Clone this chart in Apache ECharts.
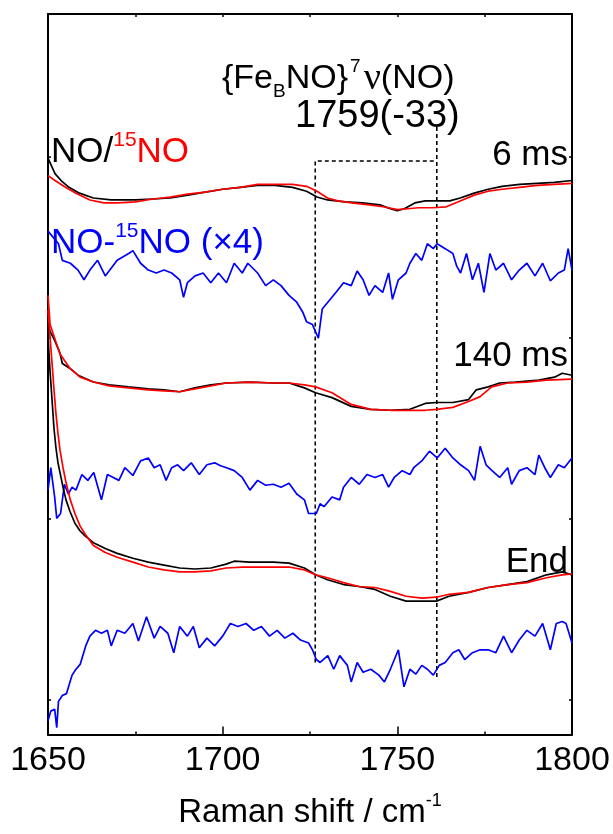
<!DOCTYPE html>
<html><head><meta charset="utf-8">
<script src="https://cdn.jsdelivr.net/npm/echarts@6/dist/echarts.min.js"></script>
<style>html,body{margin:0;padding:0;background:#fff}#c{width:613px;height:834px}</style>
</head><body><div id="c"></div>
<script>
// x: Raman shift (cm-1), y: intensity (arbitrary units, traces stacked)
const xTickLabels = [1650, 1700, 1750, 1800];
const yTickValues = [36, 222, 407, 593];

const ms6Black = [[1650,592],[1651,584],[1652,576],[1654,568],[1656,562],[1659,556],[1663,551],[1668,549],[1675,549],[1680,550],[1685,551],[1690,554],[1695,557],[1700,560],[1705,562],[1710,564],[1715,564],[1720,562],[1724,558],[1727,552],[1730,549],[1735,547],[1740,546],[1745,544],[1748,540],[1750,538],[1752,540],[1755,546],[1758,548],[1761,548],[1765,548],[1768,551],[1772,556],[1776,560],[1780,563],[1785,565],[1790,566],[1795,567],[1800,569]];
const ms6Red = [[1650,574],[1652,569],[1655,562],[1658,556],[1662,549],[1666,546],[1670,546],[1675,547],[1680,550],[1685,552],[1690,555],[1695,557],[1700,560],[1705,562],[1710,565],[1715,565],[1720,565],[1724,563],[1727,558],[1730,551],[1733,548],[1737,546],[1742,544],[1746,542],[1750,539],[1753,540],[1756,541],[1760,541],[1764,542],[1768,548],[1772,554],[1776,558],[1780,560],[1785,562],[1790,564],[1795,565],[1800,566]];
const ms6Diff = [[1650.0,517],[1653.0,504],[1654.1,487],[1656.4,484],[1658.6,477],[1660.3,467],[1662.0,477],[1664.2,487],[1666.4,471],[1669.8,487],[1673.1,494],[1674.3,497],[1676.5,484],[1678.7,477],[1681.0,474],[1683.2,477],[1685.4,474],[1687.7,467],[1688.8,449],[1689.9,464],[1692.1,471],[1694.4,474],[1696.6,464],[1698.8,474],[1701.1,464],[1703.3,484],[1705.6,474],[1707.2,484],[1710.0,474],[1712.3,461],[1714.5,467],[1716.7,461],[1719.0,451],[1721.2,444],[1722.9,434],[1724.0,424],[1725.7,421],[1727.4,407],[1728.5,437],[1730.1,444],[1732.4,454],[1734.6,464],[1736.8,461],[1738.5,476],[1740.2,467],[1741.9,451],[1743.6,461],[1745.8,454],[1747.5,474],[1748.6,447],[1750.3,467],[1752.5,474],[1753.6,484],[1755.3,494],[1757.0,487],[1758.6,504],[1760.3,499],[1761.4,504],[1763.7,499],[1765.9,494],[1767.0,481],[1768.1,474],[1769.8,494],[1771.5,467],[1773.2,484],[1774.8,454],[1776.5,494],[1778.2,477],[1780.4,484],[1782.7,467],[1784.9,477],[1787.1,484],[1789.4,471],[1791.6,484],[1793.8,466],[1796.1,474],[1797.8,477],[1798.9,499],[1800.0,477]];

const ms140Black = [[1650,421],[1650.6,414],[1652,404],[1653.4,392],[1654.1,381],[1656.3,376],[1658.6,369],[1663,362],[1667.5,359],[1673,357],[1678.7,355],[1683.2,354],[1687.7,352],[1692,356],[1696.6,359],[1701,361],[1707.8,362],[1714.5,361],[1719,361],[1723.4,356],[1726.6,351],[1731.3,346],[1736.8,337],[1742.4,334],[1748,333],[1753.6,334],[1758,340],[1761.2,341],[1765.9,341],[1770.4,344],[1772.6,354],[1776,357],[1779.3,361],[1783.8,362],[1790.5,364],[1795,367],[1797.2,371],[1800,369]];
const ms140Red = [[1650,451],[1650.3,436],[1650.6,421],[1652,406],[1653.4,391],[1656.3,376],[1659.2,367],[1663,362],[1667.5,358],[1673,356],[1678.7,354],[1683.2,353],[1687.7,352],[1692,355],[1696.6,358],[1701,361],[1707.8,362],[1714.5,361],[1719,361],[1723.4,359],[1726.6,357],[1731.3,351],[1736.8,339],[1742.4,334],[1748,333],[1753.6,333],[1758,333],[1761.2,334],[1765.9,336],[1770.4,342],[1773.7,347],[1777,357],[1781.6,361],[1787,362],[1792.7,364],[1800,365]];
const ms140Diff = [[1650.0,251],[1650.8,274],[1651.9,244],[1652.5,222],[1653.6,227],[1654.7,257],[1655.8,247],[1656.9,254],[1658.0,251],[1659.7,267],[1661.4,261],[1663.1,269],[1665.3,241],[1667.0,267],[1668.7,264],[1670.3,261],[1672.0,274],[1674.3,266],[1676.5,281],[1678.7,284],[1680.4,274],[1682.1,277],[1683.8,261],[1685.4,274],[1687.1,277],[1688.8,271],[1691.0,279],[1693.3,267],[1695.5,277],[1697.7,279],[1699.4,276],[1701.1,274],[1703.3,271],[1705.6,264],[1707.8,251],[1710.0,261],[1712.3,256],[1714.5,257],[1716.7,254],[1719.0,258],[1721.2,247],[1723.4,241],[1724.6,227],[1726.8,227],[1727.9,237],[1729.0,234],[1731.3,244],[1733.5,241],[1734.6,254],[1736.8,264],[1739.1,257],[1741.3,267],[1743.6,264],[1745.8,267],[1747.5,254],[1749.1,264],[1751.4,271],[1753.6,267],[1754.7,274],[1757.0,281],[1759.2,291],[1761.4,284],[1763.7,294],[1765.9,284],[1768.1,277],[1770.4,271],[1772.1,261],[1773.7,296],[1775.4,277],[1777.1,271],[1779.3,264],[1781.6,274],[1782.7,257],[1784.9,271],[1787.1,274],[1789.4,267],[1790.5,287],[1792.2,274],[1793.8,264],[1796.1,277],[1797.8,274],[1800.0,284]];

const endBlack = [[1650,409],[1650.57,374],[1651.15,344],[1651.72,314],[1652.29,294],[1652.86,279],[1653.44,269],[1654.3,254],[1655.15,241],[1656.3,229],[1657.7,217],[1659.2,209],[1660.6,204],[1663,197],[1666.4,191],[1669.8,186],[1674.3,181],[1678.7,177],[1683.2,174],[1687.7,171],[1692,170],[1696.6,171],[1701,175],[1703.3,178],[1707.8,177],[1714.5,177],[1719,176],[1723.4,171],[1726.6,164],[1730,159],[1734.6,154],[1739,152],[1743.6,149],[1748,142],[1752.5,137],[1757,137],[1761.2,137],[1764.8,142],[1770.4,146],[1776,151],[1781.6,154],[1787.1,157],[1792.7,164],[1797.2,167],[1800,164]];
const endRed = [[1650,436],[1650.57,409],[1651.15,382],[1651.72,354],[1652.29,329],[1652.86,309],[1653.44,292],[1654.3,274],[1655.15,259],[1656.3,242],[1657.7,227],[1659.2,214],[1660.6,206],[1663,194],[1666.4,187],[1669.8,182],[1674.3,177],[1678.7,172],[1683.2,169],[1687.7,167],[1692,167],[1696.6,168],[1701,171],[1705.6,172],[1712.3,172],[1719,172],[1723.4,169],[1726.6,164],[1730,161],[1734.6,156],[1739,152],[1743.6,151],[1748,147],[1752.5,142],[1757,140],[1761.2,141],[1764.8,144],[1770.4,146],[1776,151],[1781.6,154],[1787.1,156],[1792.7,161],[1797.2,164],[1800,165]];
const endDiff = [[1650.0,14],[1650.8,24],[1651.9,26],[1652.5,7],[1653.0,34],[1654.1,40],[1655.3,42],[1655.8,44],[1656.9,61],[1658.0,67],[1659.2,72],[1660.8,91],[1662.0,101],[1663.6,107],[1665.3,104],[1667.0,107],[1668.1,91],[1669.8,107],[1672.0,104],[1674.3,114],[1675.9,96],[1678.2,121],[1680.4,99],[1682.1,111],[1684.3,104],[1686.0,84],[1687.7,111],[1689.9,101],[1691.6,111],[1693.3,89],[1695.5,99],[1697.7,91],[1700.0,101],[1702.2,114],[1704.4,111],[1706.7,114],[1708.9,107],[1711.1,111],[1713.4,101],[1715.6,107],[1717.8,99],[1720.1,104],[1722.3,97],[1724.6,94],[1725.7,87],[1726.8,77],[1727.9,74],[1730.1,81],[1731.8,67],[1733.5,81],[1735.7,71],[1736.8,54],[1738.5,74],[1740.2,64],[1742.4,67],[1744.7,61],[1746.3,54],[1748.0,67],[1750.3,87],[1751.9,49],[1753.6,67],[1755.3,62],[1757.0,71],[1758.6,67],[1760.3,61],[1762.0,71],[1763.7,74],[1765.9,84],[1767.6,87],[1769.3,77],[1771.5,84],[1773.7,87],[1776.0,87],[1778.2,84],[1780.4,101],[1782.7,84],[1784.9,97],[1787.1,107],[1789.4,101],[1791.6,114],[1793.8,87],[1795.5,114],[1797.2,116],[1798.3,114],[1800.0,94]];

// marker box for {FeBNO}7 v(NO) band
const bandLeft = [[1726.5, 74], [1726.5, 589], [1761.3, 589]];
const bandRight = [[1761.3, 624], [1761.3, 57]];

const FONT = '"Liberation Sans", Arial, sans-serif';
function line(data, color) {
  return { type: 'line', data: data, showSymbol: false, symbol: 'none', silent: true,
    lineStyle: { color: color, width: 1.7 }, z: 3 };
}
function dashed(data) {
  return { type: 'line', data: data, showSymbol: false, symbol: 'none', silent: true,
    lineStyle: { color: '#000', width: 1.6, type: [4, 3] }, z: 2 };
}

const chart = echarts.init(document.getElementById('c'), null, { renderer: 'canvas' });
chart.setOption({
  animation: false,
  backgroundColor: '#fff',
  grid: { left: 48, right: 41, top: 14, bottom: 80, containLabel: false },
  xAxis: [
    { type: 'value', min: 1650, max: 1800, interval: 50, position: 'bottom',
      axisLine: { show: true, onZero: false, lineStyle: { color: '#000', width: 2 } },
      axisTick: { show: true, inside: true, length: 8, lineStyle: { color: '#000', width: 1.5 } },
      minorTick: { show: true, splitNumber: 2, length: 3, lineStyle: { color: '#000', width: 1.5 } },
      splitLine: { show: false },
      axisLabel: { show: true, color: '#000', fontSize: 34, fontFamily: FONT, margin: 9,
        formatter: function (v) { return xTickLabels.indexOf(v) >= 0 ? String(v) : ''; } },
      name: '{a|Raman shift / cm}{s|-1}', nameLocation: 'middle', nameGap: 58,
      nameTextStyle: { color: '#000', fontFamily: FONT, fontSize: 33,
        rich: { a: { fontSize: 33, fontFamily: FONT, color: '#000', lineHeight: 40 },
                s: { fontSize: 18, fontFamily: FONT, color: '#000', verticalAlign: 'top', lineHeight: 24 } } }
    },
    { type: 'value', min: 1650, max: 1800, interval: 25, position: 'top',
      axisLine: { show: true, onZero: false, lineStyle: { color: '#000', width: 2 } },
      axisTick: { show: true, inside: true, length: 3, lineStyle: { color: '#000', width: 1.5 } },
      splitLine: { show: false }, axisLabel: { show: false } }
  ],
  yAxis: [
    { type: 'value', min: 0, max: 740, position: 'left',
      axisLine: { show: true, onZero: false, lineStyle: { color: '#000', width: 2 } },
      axisTick: { show: true, inside: true, length: 3, customValues: yTickValues, lineStyle: { color: '#000', width: 1.5 } },
      axisLabel: { show: false }, splitLine: { show: false } },
    { type: 'value', min: 0, max: 740, position: 'right',
      axisLine: { show: true, onZero: false, lineStyle: { color: '#000', width: 2 } },
      axisTick: { show: true, inside: true, length: 3, customValues: yTickValues, lineStyle: { color: '#000', width: 1.5 } },
      axisLabel: { show: false }, splitLine: { show: false } }
  ],
  series: [
    dashed(bandLeft), dashed(bandRight),
    line(ms6Black, '#000000'), line(ms6Red, '#ff0000'), line(ms6Diff, '#0000ff'),
    line(ms140Black, '#000000'), line(ms140Red, '#ff0000'), line(ms140Diff, '#0000ff'),
    line(endBlack, '#000000'), line(endRed, '#ff0000'), line(endDiff, '#0000ff')
  ],
  graphic: [
    { type: 'text', x: 222, y: 79, z: 10, style: {
        text: '{Fe{b|B}NO}{c|7}{n|ν}(NO)', fill: '#000', fontSize: 34, fontFamily: FONT,
        lineHeight: 44, verticalAlign: 'middle', align: 'left',
        rich: { b: { fontSize: 19, fontFamily: FONT, verticalAlign: 'bottom', lineHeight: 22 },
                c: { fontSize: 19, fontFamily: FONT, verticalAlign: 'top', lineHeight: 22, padding: [0, 3, 0, 2] },
                n: { fontSize: 38, fontFamily: '"Liberation Serif", serif', lineHeight: 44 } } } },
    { type: 'text', x: 295, y: 117, z: 10, style: {
        text: '1759(-33)', fill: '#000', fontSize: 38, fontFamily: FONT, verticalAlign: 'middle', align: 'left' } },
    { type: 'text', x: 51, y: 152, z: 10, style: {
        text: '{k|NO/}{s|15}{r|NO}', fill: '#000', fontSize: 35, fontFamily: FONT, verticalAlign: 'middle', align: 'left',
        rich: { k: { fontSize: 35, fontFamily: FONT, fill: '#000', color: '#000', lineHeight: 44 },
                s: { fontSize: 21, fontFamily: FONT, fill: '#ff0000', color: '#ff0000', verticalAlign: 'top', lineHeight: 26 },
                r: { fontSize: 35, fontFamily: FONT, fill: '#ff0000', color: '#ff0000', lineHeight: 44 } } } },
    { type: 'text', x: 51, y: 243, z: 10, style: {
        text: '{t|NO-}{s|15}{t|NO (×4)}', fill: '#0000ff', fontSize: 35, fontFamily: FONT, verticalAlign: 'middle', align: 'left',
        rich: { t: { fontSize: 35, fontFamily: FONT, fill: '#0000ff', color: '#0000ff', lineHeight: 44 },
                s: { fontSize: 21, fontFamily: FONT, fill: '#0000ff', color: '#0000ff', verticalAlign: 'top', lineHeight: 26 } } } },
    { type: 'text', x: 568, y: 155, z: 10, style: {
        text: '6 ms', fill: '#000', fontSize: 35, fontFamily: FONT, verticalAlign: 'middle', align: 'right' } },
    { type: 'text', x: 568, y: 356, z: 10, style: {
        text: '140 ms', fill: '#000', fontSize: 35, fontFamily: FONT, verticalAlign: 'middle', align: 'right' } },
    { type: 'text', x: 568, y: 562, z: 10, style: {
        text: 'End', fill: '#000', fontSize: 35, fontFamily: FONT, verticalAlign: 'middle', align: 'right' } }
  ]
});
</script>
</body></html>
